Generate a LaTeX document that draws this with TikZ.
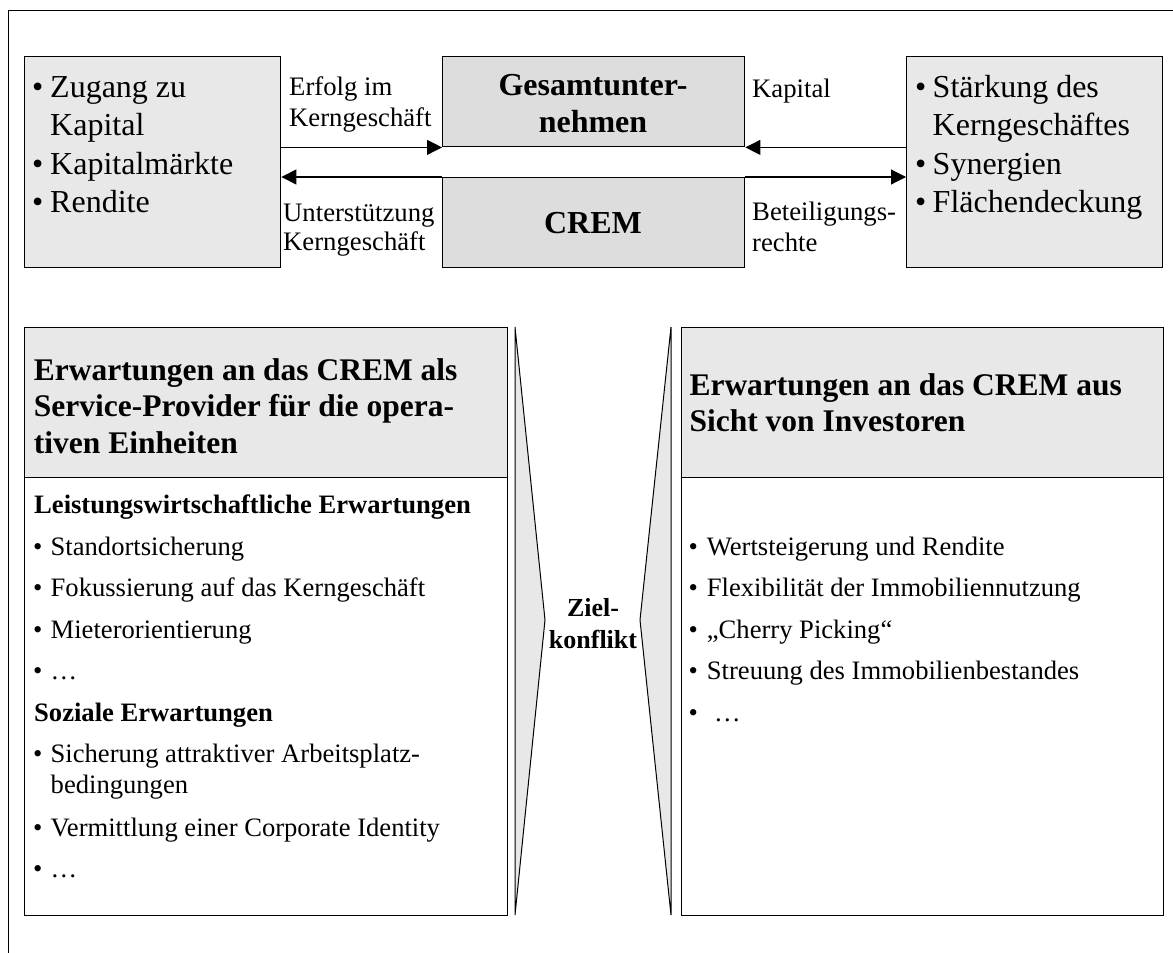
\documentclass[tikz,border=0pt]{standalone}
\usepackage{fontspec}
\setmainfont{Liberation Serif}
\usetikzlibrary{arrows.meta}
\definecolor{lightg}{HTML}{E8E8E8}
\definecolor{midg}{HTML}{DDDDDD}
\begin{document}
\begin{tikzpicture}[x=1pt,y=-1pt,
  box/.style={draw, line width=1.4pt, inner sep=0pt, anchor=north west},
  big/.style={inner sep=0pt, anchor=base west, font=\fontsize{32}{38}\selectfont},
  bigc/.style={inner sep=0pt, anchor=base, font=\bfseries\fontsize{32}{38}\selectfont},
  lab/.style={inner sep=0pt, anchor=base west, font=\fontsize{26.7}{31}\selectfont},
  head/.style={inner sep=0pt, anchor=base west, font=\bfseries\fontsize{31.5}{37}\selectfont},
  body/.style={inner sep=0pt, anchor=base west, font=\fontsize{26.6}{31}\selectfont},
  bodyb/.style={inner sep=0pt, anchor=base west, font=\bfseries\fontsize{26.6}{31}\selectfont},
  zk/.style={inner sep=0pt, anchor=base, font=\bfseries\fontsize{26}{31}\selectfont},
  arr/.style={line width=1.1pt, -{Triangle[length=15pt,width=15pt]}},
  tri/.style={draw, line width=1pt, fill=lightg}
]
\useasboundingbox (0,0) rectangle (1173,953);

% outer frame
\draw[line width=1.5pt] (1173,10.7) -- (8.5,10.7) -- (8.5,953);

% top boxes
\node[box, fill=lightg, minimum width=256pt, minimum height=211pt] (lbox) at (24,56) {};
\node[box, fill=midg, minimum width=302pt, minimum height=90pt] (gbox) at (442,56) {};
\node[box, fill=midg, minimum width=302pt, minimum height=90pt] (cbox) at (442,177) {};
\node[box, fill=lightg, minimum width=256pt, minimum height=211pt] (rbox) at (906,56) {};

% arrows
\draw[arr] (gbox.south west -| lbox.east) -- (gbox.south west);
\draw[arr] (cbox.north west) -- (cbox.north west -| lbox.east);
\draw[arr] (gbox.south east -| rbox.west) -- (gbox.south east);
\draw[arr] (cbox.north east) -- (cbox.north east -| rbox.west);

% left box text
\node[big] (l1b) at (32,97) {•};
\node[big] (l1) at (50,97) {Zugang zu};
\node[big] (l2) at (50,135) {Kapital};
\node[big] (l3b) at (32,174) {•};
\node[big] (l3) at (50,174) {Kapitalmärkte};
\node[big] (l4b) at (32,212) {•};
\node[big] (l4) at (50,212) {Rendite};

% right box text
\node[big] (r1b) at (915,97) {•};
\node[big] (r1) at (932.5,97) {Stärkung des};
\node[big] (r2) at (932.5,135) {Kerngeschäftes};
\node[big] (r3b) at (915,174) {•};
\node[big] (r3) at (932.5,174) {Synergien};
\node[big] (r4b) at (915,212) {•};
\node[big] (r4) at (932.5,212) {Flächendeckung};

% centre boxes text
\node[bigc] (g1) at (593,95) {Gesamtunter-};
\node[bigc] (g2) at (593,132) {nehmen};
\node[bigc] (c1) at (593,233) {CREM};

% arrow labels
\node[lab] (e1) at (289,95) {Erfolg im};
\node[lab] (e2) at (289,126) {Kerngeschäft};
\node[lab] (u1) at (283,221) {Unterstützung};
\node[lab] (u2) at (283,250) {Kerngeschäft};
\node[lab] (k1) at (752,97) {Kapital};
\node[lab] (b1) at (752,220) {Beteiligungs-};
\node[lab] (b2) at (752,251) {rechte};

% bottom panels
\node[box, fill=lightg, minimum width=483pt, minimum height=150pt] (lhead) at (24,327) {};
\node[box, fill=white, minimum width=483pt, minimum height=438pt] (lbody) at (24,477) {};
\node[box, fill=lightg, minimum width=482pt, minimum height=150pt] (rhead) at (680.5,327) {};
\node[box, fill=white, minimum width=482pt, minimum height=438pt] (rbody) at (680.5,477) {};

% triangles
\filldraw[tri] (515,327) -- (545,620) -- (515,915) -- cycle;
\filldraw[tri] (671,327) -- (640,620) -- (671,915) -- cycle;

\node[zk] (z1) at (593,616.7) {Ziel-};
\node[zk] (z2) at (593,648) {konflikt};

% headers
\node[head] (lh1) at (33.7,380) {Erwartungen an das CREM als};
\node[head] (lh2) at (33.7,416.7) {Service-Provider für die opera-};
\node[head] (lh3) at (33.7,453.4) {tiven Einheiten};
\node[head] (rh1) at (689.3,395) {Erwartungen an das CREM aus};
\node[head] (rh2) at (689.3,431.7) {Sicht von Investoren};

% left body
\node[bodyb] (lb0) at (34,513) {Leistungswirtschaftliche Erwartungen};
\node[body] (lb1b) at (33,555) {•};
\node[body] (lb1) at (50.5,555) {Standortsicherung};
\node[body] (lb2b) at (33,596.5) {•};
\node[body] (lb2) at (50.5,596.5) {Fokussierung auf das Kerngeschäft};
\node[body] (lb3b) at (33,638) {•};
\node[body] (lb3) at (50.5,638) {Mieterorientierung};
\node[body] (lb4b) at (33,679.5) {•};
\node[body] (lb4) at (50.5,679.5) {…};
\node[bodyb] (lb5) at (34,721) {Soziale Erwartungen};
\node[body] (lb6b) at (33,762.5) {•};
\node[body] (lb6) at (50.5,762.5) {Sicherung attraktiver Arbeitsplatz-};
\node[body] (lb7) at (50.5,793) {bedingungen};
\node[body] (lb8b) at (33,836) {•};
\node[body] (lb8) at (50.5,836) {Vermittlung einer Corporate Identity};
\node[body] (lb9b) at (33,877.5) {•};
\node[body] (lb9) at (50.5,877.5) {…};

% right body
\node[body] (rb1b) at (688.4,555) {•};
\node[body] (rb1) at (706.7,555) {Wertsteigerung und Rendite};
\node[body] (rb2b) at (688.4,596.5) {•};
\node[body] (rb2) at (706.7,596.5) {Flexibilität der Immobiliennutzung};
\node[body] (rb3b) at (688.4,638) {•};
\node[body] (rb3) at (706.7,638) {„Cherry Picking“};
\node[body] (rb4b) at (688.4,679.5) {•};
\node[body] (rb4) at (706.7,679.5) {Streuung des Immobilienbestandes};
\node[body] (rb5b) at (688.4,721) {•};
\node[body] (rb5) at (714,721) {…};
\end{tikzpicture}
\end{document}
